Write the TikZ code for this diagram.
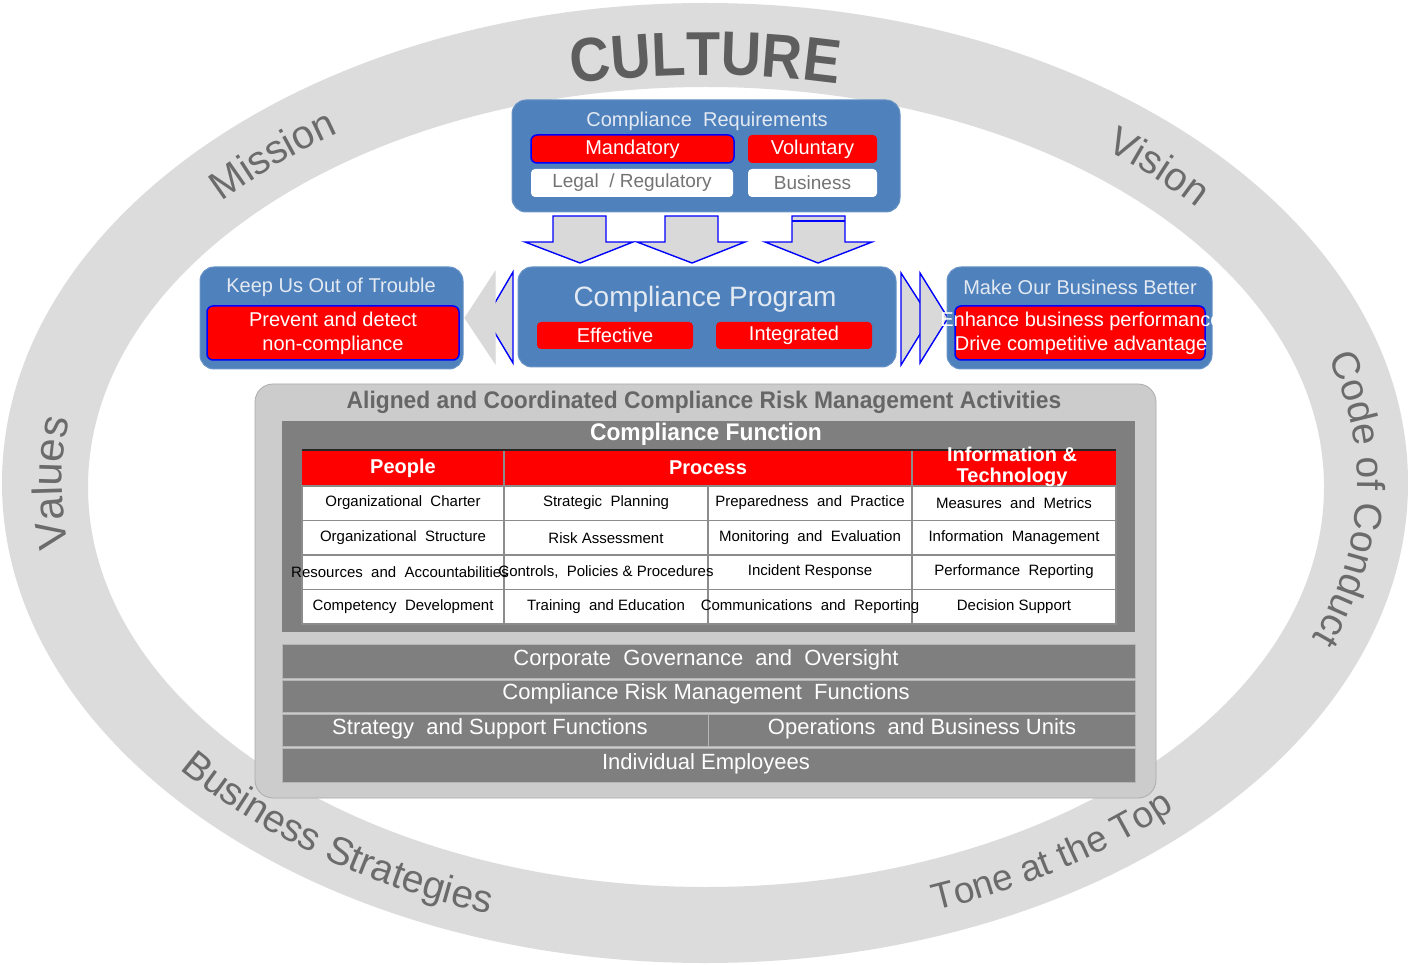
\documentclass[tikz,border=0pt]{standalone}
\usepackage{fontspec}
\setmainfont{Liberation Sans}
\newfontfamily\condfont[FakeStretch=0.95]{Liberation Sans}
\newfontfamily\cultfont[FakeStretch=0.9]{Liberation Sans}
\usetikzlibrary{decorations.text}
\definecolor{ringgray}{HTML}{DCDCDC}
\definecolor{ringtxt}{HTML}{6B6B6B}
\definecolor{culttxt}{HTML}{5E5E5E}
\definecolor{cblue}{HTML}{4F81BD}
\definecolor{ltitle}{HTML}{E4EAF2}
\definecolor{cred}{HTML}{FF0000}
\definecolor{cborder}{HTML}{0000FF}
\definecolor{arrgray}{HTML}{D9D9D9}
\definecolor{panelgray}{HTML}{CCCCCC}
\definecolor{panelline}{HTML}{ABABAB}
\definecolor{darkpanel}{HTML}{7F7F7F}
\definecolor{aligntxt}{HTML}{666666}
\definecolor{wbtxt}{HTML}{737373}
\definecolor{gridgray}{HTML}{8C8C8C}
\definecolor{barline}{HTML}{B5B5B5}
\begin{document}
\begin{tikzpicture}[x=1pt,y=1pt,
  every node/.style={inner sep=0pt, outer sep=0pt},
  bluebox/.style={fill=cblue, draw=cblue!85!white, line width=1pt, rounded corners=14pt},
  redbox/.style={fill=cred, rounded corners=4pt},
  redblue/.style={fill=cred, draw=cborder, line width=1.5pt, rounded corners=6pt},
  whitebox/.style={fill=white, rounded corners=4pt},
  ttl/.style={text=ltitle, font=\fontsize{20}{22}\selectfont},
  wt/.style={text=white, font=\fontsize{20}{24}\selectfont, align=center},
  gt/.style={text=wbtxt, font=\fontsize{19}{21}\selectfont},
  cell/.style={text=black, font=\fontsize{15}{17}\selectfont},
  hdr/.style={text=white, font=\bfseries\fontsize{20}{21}\selectfont, align=center},
  bar/.style={fill=darkpanel, draw=barline, line width=0.8pt},
  bartxt/.style={text=white, font=\fontsize{22}{24}\selectfont},
  blockarrow/.style={fill=arrgray, draw=cborder, line width=1.4pt, line join=miter},
  ringword/.style 2 args={decorate, decoration={text along path, text align=center, text color=ringtxt, text={|\fontsize{#1}{#1}\selectfont|#2}}},
]
% background / bounding box
\fill[white] (0,0) rectangle (1408,-965);
\useasboundingbox (0,0) rectangle (1408,-965);

% ring
\fill[ringgray, even odd rule] (705,-483) ellipse [x radius=703, y radius=480]
  (706,-487) ellipse [x radius=618, y radius=400];

% ring texts
\path[decorate, decoration={text along path, text align=center, text color=culttxt,
   text={|\cultfont\bfseries\fontsize{62}{62}\selectfont|CULTURE}}]
  ([shift={(705pt,-483pt)}]115:632pt and 408pt) arc[start angle=115, end angle=65, x radius=632, y radius=408];
\path[ringword={40}{Mission}]
  ([shift={(705pt,-483pt)}]151:645pt and 425pt) arc[start angle=151, end angle=114, x radius=645, y radius=425];
\path[ringword={40}{Vision}]
  ([shift={(705pt,-483pt)}]63:645pt and 425pt) arc[start angle=63, end angle=27, x radius=645, y radius=425];
\path[ringword={42}{Values}]
  ([shift={(705pt,-483pt)}]202:643pt and 425pt) arc[start angle=202, end angle=158, x radius=643, y radius=425];
\path[ringword={39}{Code of Conduct}]
  ([shift={(705pt,-483pt)}]27:652pt and 428pt) arc[start angle=27, end angle=-31, x radius=652, y radius=428];
\path[ringword={39}{Business Strategies}]
  ([shift={(705pt,-483pt)}]212:675pt and 455pt) arc[start angle=212, end angle=257, x radius=675, y radius=455];
\path[ringword={37}{Tone at the Top}]
  ([shift={(705pt,-483pt)}]284:675pt and 455pt) arc[start angle=284, end angle=321, x radius=675, y radius=455];

% Compliance requirements
\node[bluebox, minimum width=388, minimum height=112] (req) at (706,-156) {};
\node[ttl] (reqtitle) at (707,-121) {Compliance\ \ Requirements};
\node[redblue, minimum width=203, minimum height=28] (mand) at (632.5,-149) {};
\node[wt] (mandt) at (mand) {Mandatory};
\node[redbox, minimum width=129, minimum height=28] (vol) at (812.5,-149) {};
\node[wt] (volt) at (vol) {Voluntary};
\node[whitebox, minimum width=202, minimum height=28] (legal) at (632,-183) {};
\node[gt] (legalt) at (legal) {Legal\ \ / Regulatory};
\node[whitebox, minimum width=129, minimum height=28] (bus) at (812.5,-183) {};
\node[gt] (bust) at (bus) {Business};

% down arrows
\draw[blockarrow] (553,-216) -- (606,-216) -- (606,-242) -- (633,-242) -- (580,-263) -- (525,-242) -- (553,-242) -- cycle;
\draw[blockarrow] (665,-216) -- (718,-216) -- (718,-242) -- (745,-242) -- (692,-263) -- (637,-242) -- (665,-242) -- cycle;
\draw[blockarrow] (792,-216) -- (845,-216) -- (845,-242) -- (872,-242) -- (818,-263) -- (765,-242) -- (792,-242) -- cycle;
\draw[cborder, line width=1.4pt] (792,-221) -- (845,-221);

% Compliance program
\node[bluebox, minimum width=378, minimum height=100] (prog) at (707,-317) {};
\node[text=ltitle, font=\fontsize{28}{30}\selectfont] (progt) at (705,-299) {Compliance Program};
\node[redbox, minimum width=156, minimum height=27] (eff) at (615,-335.5) {};
\node[wt] (efft) at (eff) {Effective};
\node[redbox, minimum width=156, minimum height=27] (integ) at (794,-335.5) {};
\node[wt] (integt) at (integ) {Integrated};

% left box
\node[bluebox, minimum width=263, minimum height=102] (keep) at (331.5,-318) {};
\node[ttl] (keept) at (331,-287) {Keep Us Out of Trouble};
\node[redblue, minimum width=252, minimum height=54] (prev) at (333,-333) {};
\node[wt] (prevt) at (prev) {Prevent and detect\\non-compliance};

% left arrow
\draw[blockarrow] (513,-272) -- (486,-318) -- (513,-363) -- cycle;
\draw[fill=arrgray, draw=white!70!gray, line width=1pt] (495,-272) -- (465,-318) -- (495,-363) -- cycle;

% right arrows
\draw[blockarrow] (901,-273) -- (930,-318) -- (901,-365) -- cycle;
\draw[blockarrow] (920,-273) -- (948,-318) -- (920,-363) -- cycle;

% right box
\node[bluebox, minimum width=265, minimum height=102] (better) at (1079.5,-318) {};
\node[ttl] (bettert) at (1080,-287) {Make Our Business Better};
\node[redblue, minimum width=250, minimum height=54] (enh) at (1080,-333) {};
\node[wt] (enht) at (1081,-333) {Enhance business performance\\Drive competitive advantage};

% aligned activities panel
\node[fill=panelgray, draw=panelline, line width=0.8pt, rounded corners=18pt, minimum width=901, minimum height=414] (aligned) at (705.5,-591) {};
\node[text=aligntxt, font=\condfont\bfseries\fontsize{24}{26}\selectfont] (alignedt) at (704,-402) {Aligned and Coordinated Compliance Risk Management Activities};

% compliance function panel
\node[fill=darkpanel, minimum width=853, minimum height=211] (func) at (708.5,-526.5) {};
\node[text=white, font=\condfont\bfseries\fontsize{24}{26}\selectfont] (funct) at (706,-434) {Compliance Function};

% table
\fill[white] (302,-486) rectangle (1116,-624);
\node[fill=cred, minimum width=814, minimum height=36] (hdrrow) at (709,-468) {};
\draw[black!85, line width=1.6pt] (302,-450) -- (1116,-450);
\draw[gridgray, line width=1.4pt] (302,-486) rectangle (1116,-624);
\foreach \yy in {486,520.5,555,589.5} \draw[gridgray, line width=1.4pt] (302,-\yy) -- (1116,-\yy);
\draw[gridgray, line width=1.4pt] (504,-451) -- (504,-624) (912,-451) -- (912,-624) (708,-486) -- (708,-624);

\node[hdr] (hpeople) at (403,-468) {People};
\node[hdr] (hprocess) at (708,-468) {Process};
\node[hdr] (hinfo) at (1012,-467) {Information \&\\Technology};

\node[cell] (c11) at (403,-503) {Organizational\ \ Charter};
\node[cell] (c12) at (606,-503) {Strategic\ \ Planning};
\node[cell] (c13) at (810,-503) {Preparedness\ \ and\ \ Practice};
\node[cell] (c14) at (1014,-503) {Measures\ \ and\ \ Metrics};
\node[cell] (c21) at (403,-538) {Organizational\ \ Structure};
\node[cell] (c22) at (606,-538) {Risk Assessment};
\node[cell] (c23) at (810,-538) {Monitoring\ \ and\ \ Evaluation};
\node[cell] (c24) at (1014,-538) {Information\ \ Management};
\node[cell] (c31) at (400,-572) {Resources\ \ and\ \ Accountabilities};
\node[cell] (c32) at (606,-572) {Controls,\ \ Policies \& Procedures};
\node[cell] (c33) at (810,-572) {Incident Response};
\node[cell] (c34) at (1014,-572) {Performance\ \ Reporting};
\node[cell] (c41) at (403,-607) {Competency\ \ Development};
\node[cell] (c42) at (606,-607) {Training\ \ and Education};
\node[cell] (c43) at (810,-607) {Communications\ \ and\ \ Reporting};
\node[cell] (c44) at (1014,-607) {Decision Support};

% bars
\node[bar, minimum width=853, minimum height=34] (gov) at (708.5,-661) {};
\node[bartxt] (govt) at (706,-660) {Corporate\ \ Governance\ \ and\ \ Oversight};
\node[bar, minimum width=853, minimum height=32] (crm) at (708.5,-696) {};
\node[bartxt] (crmt) at (706,-694) {Compliance Risk Management\ \ Functions};
\node[bar, minimum width=426, minimum height=32] (strat) at (495,-730) {};
\node[bartxt] (stratt) at (490,-729) {Strategy\ \ and Support Functions};
\node[bar, minimum width=427, minimum height=32] (ops) at (921.5,-730) {};
\node[bartxt] (opst) at (922,-729) {Operations\ \ and Business Units};
\node[bar, minimum width=853, minimum height=34] (emp) at (708.5,-765) {};
\node[bartxt] (empt) at (706,-764) {Individual Employees};
\end{tikzpicture}
\end{document}
